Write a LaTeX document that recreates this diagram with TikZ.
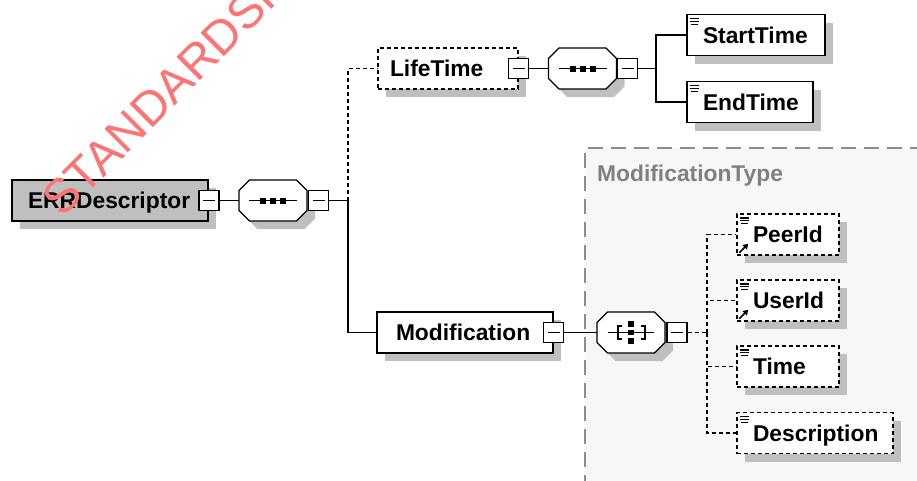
\documentclass[tikz,border=0pt]{standalone}
\usepackage{fontspec}
\setmainfont{Liberation Sans}
\usetikzlibrary{shadows,arrows.meta}

% octagon frame of a compositor, with its shadow
\newcommand{\octagonat}[1]{%
  \fill[black!25, shift={#1}, xshift=8pt, yshift=-8pt] (-34,-10) -- (-23.5,-20.5) -- (23.5,-20.5) -- (34,-10) -- (34,10) -- (23.5,20.5) -- (-23.5,20.5) -- (-34,10) -- cycle;
  \draw[fill=white, line width=1.3pt, shift={#1}] (-34,-10) -- (-23.5,-20.5) -- (23.5,-20.5) -- (34,-10) -- (34,10) -- (23.5,20.5) -- (-23.5,20.5) -- (-34,10) -- cycle;}

\begin{document}
\begin{tikzpicture}[x=1pt,y=-1pt]
                \tikzset{shade/.style = {drop shadow={shadow xshift=8pt, shadow yshift=-8pt, fill=black!25, opacity=1}}}
                \tikzset{elem/.style = {shape=rectangle, draw, fill=white, line width=1.5pt, shade, minimum height=41pt, inner ysep=0pt, align=left, text height=16.3pt, text depth=0pt, font=\fontsize{22.8}{26}\selectfont\bfseries}}
                \tikzset{opt/.style = {elem, dash pattern=on 4pt off 3pt}}
                \tikzset{leafmark/.style = {path picture={
                    \draw[solid, black, line width=1.1pt] ([shift={(3,4)}]path picture bounding box.north west) -- ++(9,0);
                    \draw[solid, black, line width=1.1pt] ([shift={(3,6.8)}]path picture bounding box.north west) -- ++(9,0);
                    \draw[solid, black, line width=1.1pt] ([shift={(4,9.6)}]path picture bounding box.north west) -- ++(7,0);}}}
                \tikzset{leaf/.style = {elem, leafmark}}
                \tikzset{optleaf/.style = {opt, leafmark}}
                \tikzset{toggle/.style = {shape=rectangle, draw, fill=white, line width=1.3pt, minimum size=20pt, inner sep=0pt,
                    path picture={\draw[black, line width=1.2pt] ([xshift=4pt]path picture bounding box.west) -- ([xshift=-4pt]path picture bounding box.east);}}}
                \tikzset{group/.style = {shape=rectangle, draw=none, fill=none, minimum width=68pt, minimum height=41pt, inner sep=0pt}}
                \tikzset{seq/.style = {group, path picture={
                    \draw[black, line width=1.2pt] (path picture bounding box.center) +(-24,0) -- +(24,0);
                    \foreach \dx in {-10,0,10}
                        \fill[black] ([xshift=\dx pt]path picture bounding box.center) +(-3,-3) rectangle +(3,3);}}}
                \tikzset{all/.style = {group, path picture={
                    \draw[black, line width=1.2pt] (path picture bounding box.center) +(-23,0) -- +(23,0);
                    \draw[black, line width=1.2pt] (path picture bounding box.center) +(-9,-6.5) -- +(-13,-6.5) -- +(-13,6.5) -- +(-9,6.5);
                    \draw[black, line width=1.2pt] (path picture bounding box.center) +(10,-6.5) -- +(14,-6.5) -- +(14,6.5) -- +(10,6.5);
                    \foreach \dy in {-8.5,0,8.5}
                        \fill[black] ([yshift=-\dy pt]path picture bounding box.center) +(-2.7,-2.7) rectangle +(2.7,2.7);}}}
                \tikzset{link/.style = {line width=1.2pt}}
                \tikzset{optlink/.style = {link, dash pattern=on 4pt off 3pt}}
                \tikzset{refarrow/.style = {line width=1.5pt, -{Triangle[length=5pt,width=6pt]}}}

                \useasboundingbox (0,0) rectangle (917,480);
                \clip (0,0) rectangle (917,480);

                % type area
                \fill[black!3] (585,148) rectangle (930,490);
                \draw[black!45, line width=1.2pt, dash pattern=on 15pt off 8pt] (585,490) -- (585,148) -- (930,148);
                \node[anchor=west, text=black!50, inner sep=0pt, font=\fontsize{22.8}{26}\selectfont\bfseries] (typename) at (597,176) {ModificationType};

                % vertices
                \node[elem, fill=black!25, line width=2pt, text width=164pt, inner xsep=16pt] (err) at (110,200.5) {ERRDescriptor};
                \node[toggle] (errx) at (err.east) {};
                \octagonat{(273,200.5)}
                \node[seq] (seq1) at (273,200.5) {};
                \node[toggle] (seq1x) at (318.5,200.5) {};
                \coordinate (t1) at (348,200.5);

                \node[opt, text width=116pt, inner xsep=12pt] (life) at (448,68.5) {LifeTime};
                \node[toggle] (lifex) at (life.east) {};
                \octagonat{(582.5,68.5)}
                \node[seq] (seq2) at (582.5,68.5) {};
                \node[toggle] (seq2x) at (627.5,68.5) {};
                \coordinate (t2) at (656,68.5);
                \node[leaf, text width=106pt, inner xsep=16pt] (start) at (756,35) {StartTime};
                \node[leaf, text width=94pt, inner xsep=16pt] (end) at (750,102) {EndTime};

                \node[elem, text width=138pt, inner xsep=19pt] (modif) at (465,332.5) {Modification};
                \node[toggle] (modx) at (modif.east) {};
                \octagonat{(631,332.5)}
                \node[all] (all) at (631,332.5) {};
                \node[toggle] (allx) at (677,332.5) {};
                \coordinate (t3) at (707,332.5);
                \node[optleaf, text width=70pt, inner xsep=16pt] (peer) at (788,234.5) {PeerId};
                \node[optleaf, text width=70pt, inner xsep=16pt] (user) at (788,300.5) {UserId};
                \node[optleaf, text width=70pt, inner xsep=16pt] (time) at (788,366.5) {Time};
                \node[optleaf, text width=124pt, inner xsep=16pt] (desc) at (815,433) {Description};
                \draw[refarrow] ([shift={(3,-3)}]peer.south west) -- ++(9,-9);
                \draw[refarrow] ([shift={(3,-3)}]user.south west) -- ++(9,-9);

                %edges
                \draw[link] (errx) -- (seq1);
                \draw[link] (seq1x) -- (t1);
                \draw[optlink] (t1) |- (life);
                \draw[link] (t1) |- (modif);
                \draw[link] (lifex) -- (seq2);
                \draw[link] (seq2x) -- (t2);
                \draw[link] (t2) |- (start);
                \draw[link] (t2) |- (end);
                \draw[link] (modx) -- (all);
                \draw[optlink] (allx) -- (t3);
                \draw[optlink] (t3) |- (peer);
                \draw[optlink] (t3) |- (user);
                \draw[optlink] (t3) |- (time);
                \draw[optlink] (t3) |- (desc);

                % watermark
                \node[rotate=45, anchor=base west, inner sep=0pt, text=red!55, font=\fontsize{48}{48}\selectfont] (mark) at (62,219) {STANDARDSI};
\end{tikzpicture}
\end{document}
